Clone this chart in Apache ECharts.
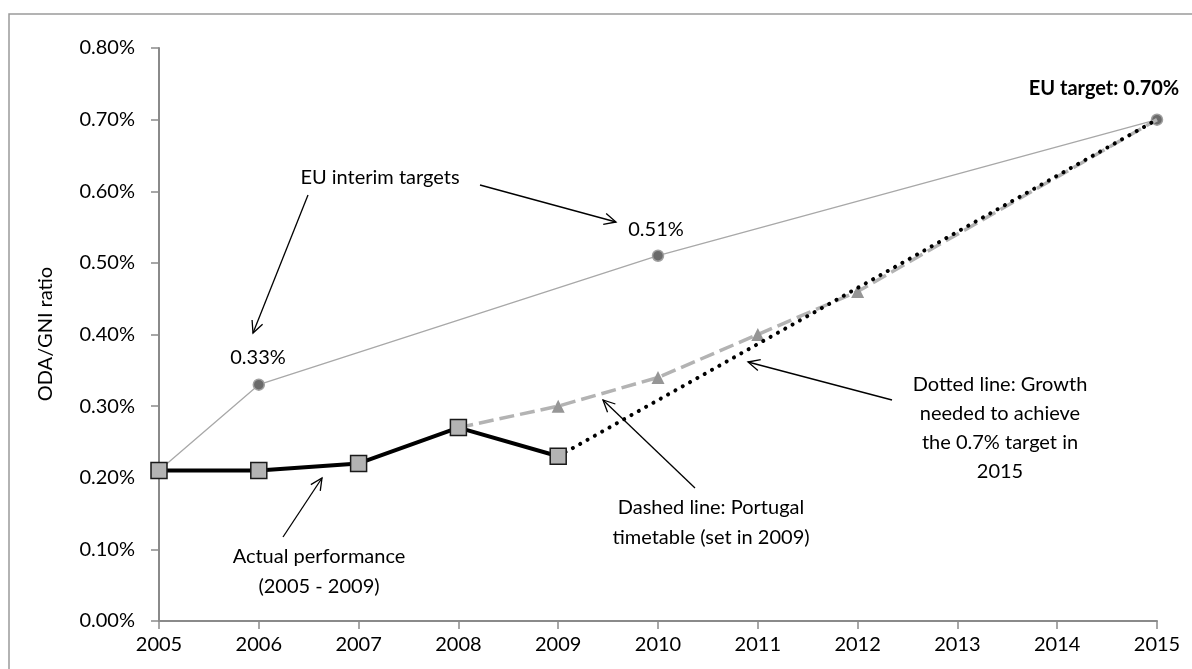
<!DOCTYPE html>
<html>
<head>
<meta charset="utf-8">
<script src="https://cdn.jsdelivr.net/npm/echarts@6/dist/echarts.min.js"></script>
<style>
html,body{margin:0;padding:0;background:#fff;}
#chart{width:1192px;height:669px;}
</style>
</head>
<body>
<div id="chart"></div>
<script>
// ---- data ----
const years = ['2005','2006','2007','2008','2009','2010','2011','2012','2013','2014','2015'];
const yTicks = [0, 0.1, 0.2, 0.3, 0.4, 0.5, 0.6, 0.7, 0.8];
const euInterimTargets = [0.21, 0.33, null, null, null, 0.51, null, null, null, null, 0.70];
const actualPerformance = [0.21, 0.21, 0.22, 0.27, 0.23, null, null, null, null, null, null];
const portugalTimetable = [null, null, null, 0.27, 0.30, 0.34, 0.40, 0.46, null, null, 0.70];
const growthNeeded = [null, null, null, null, 0.23, null, null, null, null, null, 0.70];

const FONT = 'Lato';
const chart = echarts.init(document.getElementById('chart'));

function arrow(x1, y1, x2, y2) {
  const a = Math.atan2(y2 - y1, x2 - x1), L = 13, s = 0.45;
  return {
    type: 'group', z: 50,
    children: [
      {type: 'line', shape: {x1, y1, x2, y2}, style: {stroke: '#000', lineWidth: 1.3}},
      {type: 'polyline', shape: {points: [
        [x2 - L * Math.cos(a - s), y2 - L * Math.sin(a - s)], [x2, y2],
        [x2 - L * Math.cos(a + s), y2 - L * Math.sin(a + s)]]},
        style: {stroke: '#000', lineWidth: 1.3, fill: null}}
    ]
  };
}
function label(text, x, y, bold, lh) {
  return {type: 'text', x, y, z: 50, style: {text, fill: '#000', font: (bold ? 'bold ' : '') + '20px ' + FONT,
    align: 'center', verticalAlign: 'middle', lineHeight: lh || 24}};
}

const interimData = euInterimTargets.map((v, i) => (v === null ? null : (i === 0 ? {value: v, symbol: 'none'} : v)));
const portugalData = portugalTimetable.map((v, i) => (v === null ? null : ((i === 3 || i === 10) ? {value: v, symbol: 'none'} : v)));

chart.setOption({
  animation: false,
  backgroundColor: '#fff',
  grid: {left: 159, right: 35, top: 48, bottom: 48},
  xAxis: {
    type: 'category', data: years, boundaryGap: false,
    axisLine: {lineStyle: {color: '#8a8a8a', width: 2}},
    axisTick: {show: true, length: 8, inside: false, alignWithLabel: true, lineStyle: {color: '#8a8a8a', width: 1.5}},
    axisLabel: {color: '#000', fontFamily: FONT, fontSize: 20, margin: 14},
    splitLine: {show: false}
  },
  yAxis: {
    type: 'value', min: yTicks[0], max: yTicks[yTicks.length - 1], interval: 0.1,
    axisLine: {show: true, lineStyle: {color: '#8a8a8a', width: 2}},
    axisTick: {show: true, length: 8, lineStyle: {color: '#8a8a8a', width: 1.5}},
    axisLabel: {color: '#000', fontFamily: FONT, fontSize: 20, margin: 24, formatter: v => v.toFixed(2) + '%'},
    splitLine: {show: false}
  },
  series: [
    {
      name: 'EU interim targets', type: 'line', data: interimData, connectNulls: true,
      symbol: 'circle', symbolSize: 11, z: 2,
      lineStyle: {color: '#a8a8a8', width: 1.3},
      itemStyle: {color: '#6b6b6b', borderColor: '#a0a0a0', borderWidth: 1.5}
    },
    {
      name: 'Portugal timetable', type: 'line', data: portugalData, connectNulls: true,
      symbol: 'triangle', symbolSize: 13, z: 3,
      lineStyle: {color: '#b3b3b3', width: 3.5, type: [15, 6]},
      itemStyle: {color: '#969696'}
    },
    {
      name: 'Growth needed', type: 'line', data: growthNeeded, connectNulls: true,
      symbol: 'none', z: 4,
      lineStyle: {color: '#000', width: 4, type: [0.1, 8.3], cap: 'round'}
    },
    {
      name: 'Actual performance', type: 'line', data: actualPerformance,
      symbol: 'rect', symbolSize: 16, z: 5,
      lineStyle: {color: '#000', width: 4},
      itemStyle: {color: '#b3b3b3', borderColor: '#1a1a1a', borderWidth: 1.5}
    }
  ],
  graphic: [
    {type: 'rect', shape: {x: 9, y: 14, width: 1250, height: 720}, style: {fill: null, stroke: '#9a9a9a', lineWidth: 1.5}, z: 0},
    {type: 'text', x: 46, y: 334, rotation: Math.PI / 2, style: {text: 'ODA/GNI ratio', fill: '#000', font: '20px ' + FONT, align: 'center', verticalAlign: 'middle'}},
    label('EU interim targets', 380, 178),
    label('0.33%', 258, 358),
    label('0.51%', 656, 230),
    label('EU target: 0.70%', 1104, 89, true),
    label('Actual performance\n(2005 - 2009)', 319, 572, false, 30),
    label('Dashed line: Portugal\ntimetable (set in 2009)', 711, 523, false, 30),
    label('Dotted line: Growth\nneeded to achieve\nthe 0.7% target in\n2015', 1000, 428, false, 29),
    arrow(308, 195, 253, 333),
    arrow(480, 185, 616, 222),
    arrow(283, 537, 322, 478),
    arrow(695, 488, 603, 400),
    arrow(892, 400, 748, 362)
  ]
});
</script>
</body>
</html>
